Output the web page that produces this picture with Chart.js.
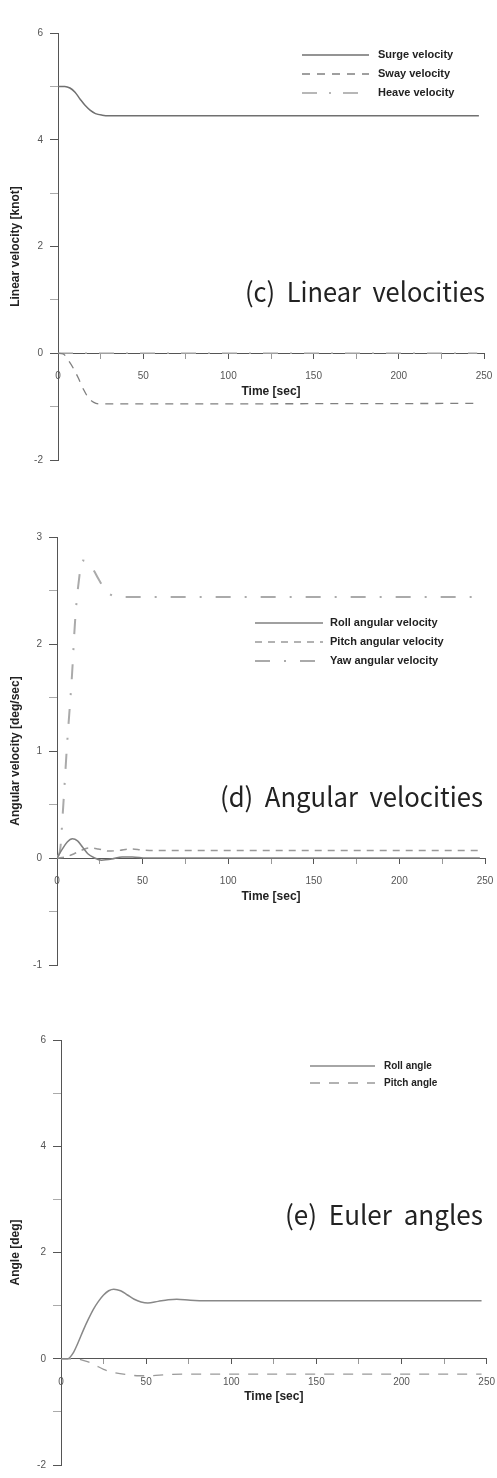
<!DOCTYPE html>
<html>
<head>
<meta charset="utf-8">
<script src="https://cdn.jsdelivr.net/npm/chart.js@4/dist/chart.umd.min.js"></script>
<style>
  html, body { margin: 0; padding: 0; background: #fff; overflow: hidden; }
  body { width: 497px; height: 1478px; position: relative; }
  .panel { position: absolute; left: 0; width: 497px; }
</style>
</head>
<body>
<div class="panel" id="p_c"><canvas id="ch_c"></canvas></div>
<div class="panel" id="p_d"><canvas id="ch_d"></canvas></div>
<div class="panel" id="p_e"><canvas id="ch_e"></canvas></div>
<script>
/* ── data ─────────────────────────────────────────────────── */
// (c) linear velocities [knot]
const surgeT = [0, 4, 7, 10, 13, 16, 19, 22, 26, 30, 247];
const surgeV = [5.0, 5.0, 4.97, 4.89, 4.76, 4.64, 4.55, 4.49, 4.46, 4.45, 4.45];
const swayT  = [0, 3, 6, 9, 12, 15, 18, 21, 25, 246];
const swayV  = [0, -0.01, -0.13, -0.28, -0.47, -0.68, -0.84, -0.92, -0.95, -0.94];
const heaveT = [0, 20, 40, 246];
const heaveV = [0, 0, 0, 0];

// (d) angular velocities [deg/sec]
const rollRateT  = [0, 3, 6, 9, 12, 15, 18, 22, 26, 32, 38, 44, 52, 247];
const rollRateV  = [0, 0.08, 0.15, 0.18, 0.16, 0.1, 0.04, 0, -0.02, -0.01, 0.01, 0.01, 0, 0];
const pitchRateT = [0, 5, 10, 14, 19, 24, 30, 36, 43, 50, 58, 247];
const pitchRateV = [0, 0.01, 0.04, 0.07, 0.095, 0.085, 0.065, 0.07, 0.085, 0.075, 0.07, 0.07];
const yawRateT   = [0, 2, 3.5, 5.8, 8.8, 10.5, 12.3, 15, 18, 21, 24.5, 29, 33, 38, 245];
const yawRateV   = [0, 0.1, 0.45, 1.04, 1.72, 2.2, 2.53, 2.78, 2.76, 2.7, 2.6, 2.49, 2.45, 2.44, 2.44];

// (e) Euler angles [deg]
const rollAngT  = [0, 4, 7, 10, 13, 16, 19, 22, 25, 28, 31, 35, 39, 43, 47, 51, 57, 63, 68, 76, 86, 247];
const rollAngV  = [0, 0, 0.1, 0.3, 0.53, 0.74, 0.93, 1.08, 1.2, 1.28, 1.31, 1.28, 1.2, 1.12, 1.07, 1.05, 1.08, 1.11, 1.12, 1.1, 1.09, 1.09];
const pitchAngT = [0, 8, 12, 16, 20, 25, 30, 39, 46, 52, 62, 75, 247];
const pitchAngV = [0, 0, -0.02, -0.06, -0.12, -0.2, -0.25, -0.3, -0.32, -0.32, -0.3, -0.29, -0.29];

const timeTicks = [0, 50, 100, 150, 200, 250];

function pts(ts, vs) { return ts.map((t, i) => ({ x: t, y: vs[i] })); }

/* ── legend + panel tag drawn inside the canvas ───────────── */
const overlay = {
  id: 'overlay',
  afterDraw(chart, args, o) {
    const ctx = chart.ctx;
    ctx.save();
    chart.data.datasets.forEach((ds, i) => {
      const y = o.legendY + i * o.rowGap;
      ctx.strokeStyle = ds.borderColor;
      ctx.lineWidth = ds.borderWidth;
      ctx.setLineDash(ds.borderDash || []);
      ctx.beginPath();
      ctx.moveTo(o.lineX, y);
      ctx.lineTo(o.lineX + o.lineLen, y);
      ctx.stroke();
      ctx.setLineDash([]);
      ctx.fillStyle = '#222';
      ctx.font = o.legendFont;
      ctx.textAlign = 'left';
      ctx.textBaseline = 'middle';
      ctx.fillText(ds.label, o.textX, y);
    });
    ctx.font = '27px "Noto Sans CJK KR", "DejaVu Sans", sans-serif';
    ctx.fillStyle = '#222';
    ctx.textAlign = 'right';
    ctx.textBaseline = 'middle';
    ctx.fillText(o.tag, o.tagX, o.tagY, o.tagWidth);
    ctx.restore();
  }
};

function line(label, data, color, width, dash) {
  return {
    label, data,
    borderColor: color, borderWidth: width, borderDash: dash,
    pointRadius: 0, fill: false, cubicInterpolationMode: 'monotone'
  };
}

function makePanel(id, box, yCfg, datasets, ov) {
  const wrap = document.getElementById('p_' + id);
  wrap.style.top = box.top + 'px';
  wrap.style.height = box.height + 'px';
  return new Chart(document.getElementById('ch_' + id), {
    type: 'line',
    data: { datasets },
    options: {
      animation: false,
      responsive: true,
      maintainAspectRatio: false,
      layout: { padding: { top: box.padTop, bottom: box.padBottom, left: 0, right: 497 - box.right } },
      plugins: { legend: { display: false }, tooltip: { enabled: false }, overlay: ov },
      scales: {
        x: {
          type: 'linear', position: { y: 0 }, min: 0, max: 250,
          border: { color: '#555', width: 1 },
          grid: {
            drawOnChartArea: false, tickLength: 15, tickBorderDash: [5, 40],
            tickColor: c => c.tick && c.tick.value % 50 === 0 ? '#555' : '#999'
          },
          ticks: {
            stepSize: 25, padding: 2, color: '#555', maxRotation: 0, autoSkip: false,
            font: { family: 'Arial, "Liberation Sans"', size: 10 },
            callback: v => timeTicks.includes(v) ? v : ''
          },
          title: {
            display: true, text: 'Time [sec]', color: '#222', padding: { top: 0, bottom: 0 },
            font: { family: 'Arial, "Liberation Sans"', size: 12, weight: 'bold' }
          }
        },
        y: {
          type: 'linear', position: 'left', min: yCfg.min, max: yCfg.max,
          afterFit: s => { s.width = box.left; },
          border: { color: '#555', width: 1 },
          grid: { drawOnChartArea: false, tickLength: 8, tickColor: c => c.tick && yCfg.labels.includes(c.tick.value) ? '#555' : '#aaa' },
          ticks: {
            stepSize: yCfg.step, padding: 7, color: '#555', autoSkip: false,
            font: { family: 'Arial, "Liberation Sans"', size: 10 },
            callback: v => yCfg.labels.includes(v) ? v : ''
          },
          title: {
            display: true, text: yCfg.title, color: '#222', padding: { top: 8, bottom: 0 },
            font: { family: 'Arial, "Liberation Sans"', size: 12, weight: 'bold' }
          }
        }
      }
    },
    plugins: [overlay]
  });
}

const legendFont11 = 'bold 11px Arial, "Liberation Sans", sans-serif';
const legendFont10 = 'bold 10px Arial, "Liberation Sans", sans-serif';

/* ── (c) Linear velocities ────────────────────────────────── */
makePanel('c',
  { top: 3, height: 477, padTop: 30, padBottom: 20, left: 58, right: 484 },
  { min: -2, max: 6, step: 1, labels: [-2, 0, 2, 4, 6], title: 'Linear velocity [knot]' },
  [
    line('Surge velocity', pts(surgeT, surgeV), '#707070', 1.5, []),
    line('Sway velocity', pts(swayT, swayV), '#808080', 1.3, [8, 7]),
    line('Heave velocity', pts(heaveT, heaveV), '#a0a0a0', 1.5, [15, 12, 2, 12])
  ],
  { lineX: 302, lineLen: 67, textX: 378, legendY: 52, rowGap: 19, legendFont: legendFont11,
    tag: '(c)  Linear  velocities', tagX: 485, tagY: 289, tagWidth: 240 }
);

/* ── (d) Angular velocities ───────────────────────────────── */
makePanel('d',
  { top: 507, height: 478, padTop: 30, padBottom: 20, left: 57, right: 485 },
  { min: -1, max: 3, step: 0.5, labels: [-1, 0, 1, 2, 3], title: 'Angular velocity [deg/sec]' },
  [
    line('Roll angular velocity', pts(rollRateT, rollRateV), '#808080', 1.5, []),
    line('Pitch angular velocity', pts(pitchRateT, pitchRateV), '#999999', 1.5, [7, 6]),
    line('Yaw angular velocity', pts(yawRateT, yawRateV), '#aaaaaa', 2, [15, 14, 2, 14])
  ],
  { lineX: 255, lineLen: 68, textX: 330, legendY: 116, rowGap: 19, legendFont: legendFont11,
    tag: '(d)  Angular  velocities', tagX: 483, tagY: 290, tagWidth: 263 }
);

/* ── (e) Euler angles ─────────────────────────────────────── */
makePanel('e',
  { top: 1010, height: 468, padTop: 30, padBottom: 10, left: 61, right: 488 },
  { min: -2, max: 6, step: 1, labels: [-2, 0, 2, 4, 6], title: 'Angle [deg]' },
  [
    line('Roll angle', pts(rollAngT, rollAngV), '#888888', 1.5, []),
    line('Pitch angle', pts(pitchAngT, pitchAngV), '#999999', 1.3, [10, 9])
  ],
  { lineX: 310, lineLen: 65, textX: 384, legendY: 56, rowGap: 17, legendFont: legendFont10,
    tag: '(e)  Euler  angles', tagX: 483, tagY: 205, tagWidth: 198 }
);
</script>
</body>
</html>
